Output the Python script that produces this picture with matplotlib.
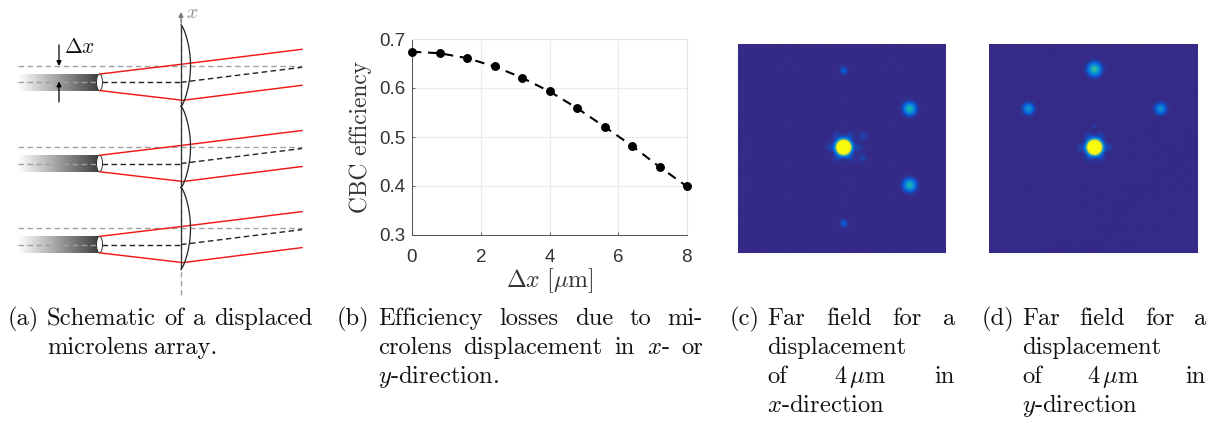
import numpy as np
import matplotlib
matplotlib.use("Agg")
import matplotlib.pyplot as plt
from matplotlib.colors import LinearSegmentedColormap
from matplotlib.patches import Ellipse

plt.rcParams['mathtext.fontset'] = 'cm'
plt.rcParams['axes.unicode_minus'] = False
plt.rcParams['axes.formatter.use_mathtext'] = True

# ---- data ----
displacement_um = [0, 0.8, 1.6, 2.4, 3.2, 4.0, 4.8, 5.6, 6.4, 7.2, 8.0]
cbc_efficiency = [0.674, 0.671, 0.661, 0.644, 0.621, 0.593, 0.559, 0.521, 0.482, 0.439, 0.399]
x_ticks = [0, 2, 4, 6, 8]
y_ticks = [0.3, 0.4, 0.5, 0.6, 0.7]

# far-field spots: column, row (0-1 of the image), peak, width (fraction of the image)
spots_c = [(0.508, 0.494, 6.0, 0.0175), (0.827, 0.309, 0.47, 0.0185), (0.827, 0.676, 0.47, 0.0185),
           (0.508, 0.125, 0.12, 0.012), (0.508, 0.860, 0.12, 0.012)]
lobes_c = [(0.475, 0.440), (0.540, 0.440), (0.443, 0.494), (0.577, 0.494), (0.475, 0.545),
           (0.540, 0.545), (0.600, 0.440), (0.600, 0.545)]
spots_d = [(0.505, 0.494, 6.0, 0.0175), (0.505, 0.119, 0.52, 0.0195), (0.188, 0.309, 0.30, 0.0165),
           (0.823, 0.309, 0.30, 0.0165), (0.505, 0.390, 0.05, 0.008)]
lobes_d = [(0.475, 0.440), (0.535, 0.440), (0.440, 0.494), (0.570, 0.494), (0.475, 0.545), (0.535, 0.545)]

# schematic geometry (figure pixels)
fiber_centres = [82.3, 163.5, 244.6]
lens_edges = [25, 106.3, 187.5, 269]

# captions: label, label x, text x, right edge, lines (justified?)
captions = [
    ("(a)", 8, 47, 313, [("Schematic of a displaced", True), ("microlens array.", False)]),
    ("(b)", 337, 378, 703, [("Efficiency losses due to mi-", True),
                            ("crolens displacement in $x$- or", True), ("$y$-direction.", False)]),
    ("(c)", 730, 767, 955, [("Far field for a", True), ("displacement", False),
                            (r"of 4$\,\mu$m in", True), ("$x$-direction", False)]),
    ("(d)", 982, 1022, 1206, [("Far field for a", True), ("displacement", False),
                              (r"of 4$\,\mu$m in", True), ("$y$-direction", False)]),
]
caption_rows = [319, 348, 377, 406]

W, H = 1223, 424
fig = plt.figure(figsize=(W / 100, H / 100), dpi=100, facecolor='white')


def axes_px(x0, y0, x1, y1, **kw):
    return fig.add_axes([x0 / W, 1 - y1 / H, (x1 - x0) / W, (y1 - y0) / H], **kw)


# ---- page overlay: schematic + captions ----
page = fig.add_axes([0, 0, 1, 1])
page.set_xlim(0, W)
page.set_ylim(H, 0)
page.axis('off')

grey_fade = LinearSegmentedColormap.from_list('fade', ['#ffffff', '#3c3c3c'])
gradient = np.linspace(0, 1, 128).reshape(1, -1)
GREY = '#a0a0a0'
for yc in fiber_centres:
    page.imshow(gradient, cmap=grey_fade, extent=(18, 100, yc + 8.3, yc - 8.3), aspect='auto', zorder=1)
    page.plot([18, 100], [yc, yc], color=GREY, lw=1.0, dashes=(4, 2.5), zorder=2)
    page.add_patch(Ellipse((99.5, yc), 6, 16.5, fc='white', ec='#333333', lw=0.7, zorder=3))
    up = yc - 16.2
    page.plot([18, 302], [up, up], color=GREY, lw=1.0, dashes=(4, 2.5), zorder=2)
    page.plot([102, 181], [yc, yc], color='#222222', lw=1.0, dashes=(4, 2.5), zorder=2)
    page.plot([181, 302], [yc, yc - 15], color='#222222', lw=1.0, dashes=(4, 2.5), zorder=2)
    page.plot([100, 181, 302], [yc - 8.3, yc - 18, yc - 33], color='#f01818', lw=1.05, zorder=4)
    page.plot([100, 183, 302], [yc + 8.3, yc + 18, yc + 3], color='#f01818', lw=1.05, zorder=4)

page.plot([181, 181], [295, 18], color=GREY, lw=1.0, dashes=(4, 2.5), zorder=2)
page.annotate('', xy=(181, 12), xytext=(181, 22),
              arrowprops=dict(arrowstyle='-|>', color='#777777', lw=0.9, mutation_scale=7, shrinkA=0, shrinkB=0))
page.text(186, 12, '$x$', color='#8c8c8c', fontsize=14, ha='left', va='center')

for top, bot in zip(lens_edges[:-1], lens_edges[1:]):
    yy = np.linspace(top, bot, 60)
    t = (yy - top) / (bot - top)
    page.plot(181 + 9.5 * np.sin(np.pi * t) ** 0.7, yy, color='#222222', lw=0.9, zorder=5)
    page.plot([181, 181], [top, bot], color='#333333', lw=0.9, zorder=5)

for start, end in (((59, 45), (59, 66)), ((59, 102), (59, 81.5))):
    page.annotate('', xy=end, xytext=start,
                  arrowprops=dict(arrowstyle='-|>', color='black', lw=0.9, mutation_scale=7, shrinkA=0, shrinkB=0),
                  zorder=6)
page.text(64, 47, r'$\Delta x$', fontsize=15.5, color='#111111', ha='left', va='center')

CAP_FONT = dict(family='cmr10', fontsize=17.7, color='#111111', va='baseline')
fig.canvas.draw()
renderer = fig.canvas.get_renderer()


def place_line(text, x0, x1, base, justify):
    words = text.split(' ')
    artists = [page.text(0, base, w, ha='left', **CAP_FONT) for w in words]
    widths = [a.get_window_extent(renderer).width for a in artists]
    space = (x1 - x0 - sum(widths)) / (len(words) - 1) if justify and len(words) > 1 else 6.5
    x = x0
    for a, w_px in zip(artists, widths):
        a.set_x(x)
        x += w_px + space


for label, lx, tx, rx, lines in captions:
    page.text(lx, caption_rows[0] + 6, label, ha='left', **CAP_FONT)
    for (line, just), row in zip(lines, caption_rows):
        place_line(line, tx, rx, row + 6, just)

# ---- efficiency plot ----
ax = axes_px(412, 39, 687, 235)
ax.set_xlim(0, 8)
ax.set_ylim(0.3, 0.7)
ax.grid(True, color='#ececec', lw=0.8)
ax.set_axisbelow(True)
for s in ('top', 'right'):
    ax.spines[s].set_color('#e4e4e4')
    ax.spines[s].set_linewidth(0.8)
for s in ('left', 'bottom'):
    ax.spines[s].set_color('#505050')
    ax.spines[s].set_linewidth(0.7)
ax.plot(displacement_um, cbc_efficiency, color='black', lw=1.5, dashes=(4.5, 3.2),
        marker='o', ms=5.4, clip_on=False, zorder=5)
ax.set_xticks(x_ticks)
ax.set_yticks(y_ticks)
ax.set_yticklabels([f'{v:.1f}' for v in y_ticks])
ax.tick_params(direction='in', length=2.5, width=0.6, color='#505050', labelcolor='#333333',
               labelsize=13.5)
ax.tick_params(axis='x', pad=10)
ax.tick_params(axis='y', pad=5)
for lab in ax.get_xticklabels() + ax.get_yticklabels():
    lab.set_family('Liberation Sans')
ax.set_xlabel(r'$\Delta x\ [\mu\mathrm{m}]$', fontsize=17.2, color='#333333', labelpad=0)
ax.set_ylabel('CBC efficiency', family='cmr10', fontsize=16.8, color='#333333', labelpad=5)

# ---- far fields ----
parula = LinearSegmentedColormap.from_list('parula', [
    '#352a87', '#0363e1', '#1485d4', '#06a7c6', '#38b99e', '#92bf73', '#d9ba56', '#fcce2e', '#f9fb0e'])


def field(spots, lobes, n=210):
    yy, xx = np.mgrid[0:n, 0:n] / (n - 1)
    img = np.zeros((n, n))
    for cx, cy, peak, sig in spots:
        img += peak * np.exp(-((xx - cx) ** 2 + (yy - cy) ** 2) / (2 * sig ** 2))
    for cx, cy in lobes:
        img += 0.055 * np.exp(-((xx - cx) ** 2 + (yy - cy) ** 2) / (2 * 0.014 ** 2))
    return img


for box, spots, lobes in (((738, 44, 946, 253), spots_c, lobes_c), ((989, 44, 1198, 253), spots_d, lobes_d)):
    a = axes_px(*box)
    a.imshow(field(spots, lobes), cmap=parula, vmin=0, vmax=1, aspect='auto', interpolation='bilinear')
    a.axis('off')

fig.savefig('out.png', dpi=100)
